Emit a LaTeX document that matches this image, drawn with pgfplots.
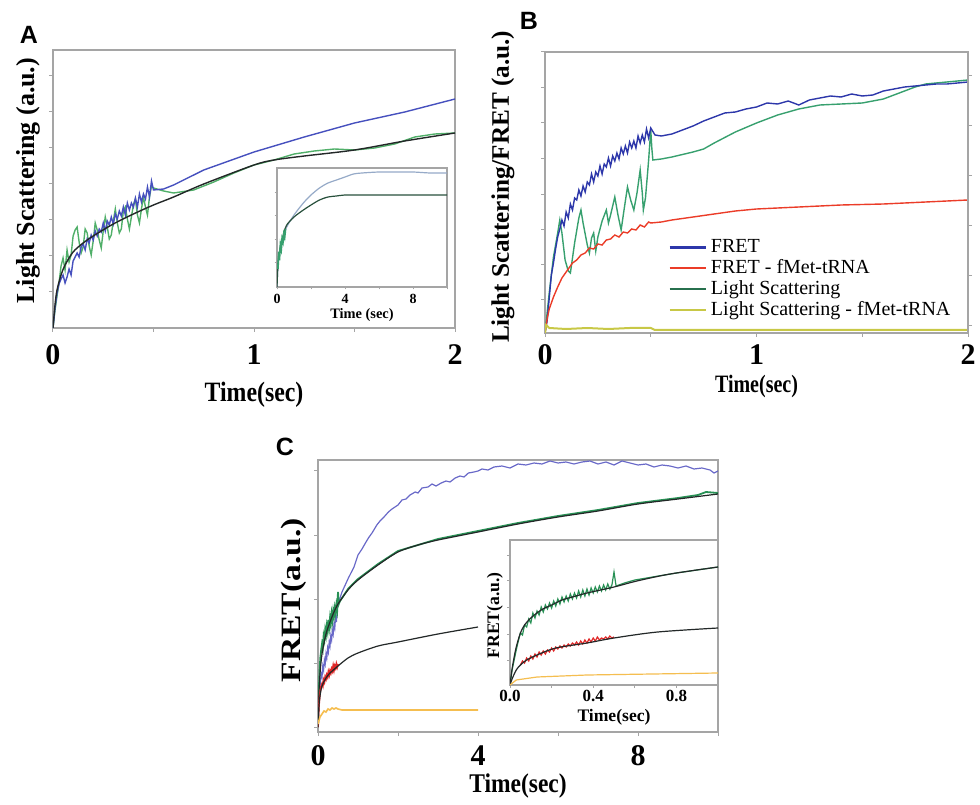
\documentclass[border=0pt]{standalone}
\usepackage{graphicx}
\usepackage{fontspec}
\setmainfont{Liberation Serif}
\newfontfamily\arial{Liberation Sans}
\usepackage{pgfplots}
\pgfplotsset{compat=1.18}
\definecolor{framegray}{RGB}{165,165,165}
\definecolor{Ablue}{RGB}{70,80,190}
\definecolor{Agreen}{RGB}{80,175,105}
\definecolor{fitblack}{RGB}{35,40,40}
\definecolor{Bblue}{RGB}{45,55,170}
\definecolor{Bgreen}{RGB}{55,160,110}
\definecolor{Bred}{RGB}{235,60,40}
\definecolor{Byellow}{RGB}{200,200,70}
\definecolor{Cblue}{RGB}{105,105,200}
\definecolor{Cgreen}{RGB}{40,145,85}
\definecolor{Cred}{RGB}{225,40,40}
\definecolor{Cyellow}{RGB}{245,190,80}
\definecolor{insetup}{RGB}{150,170,200}
\definecolor{insetlow}{RGB}{40,80,60}
\pgfplotsset{
  base/.style={scale only axis, enlargelimits=false, clip=true,
    axis line style={draw=framegray, line width=0.6pt},
    tick style={draw=framegray, line width=0.5pt},
    tick align=outside, major tick length=2pt,
    xtick pos=left, ytick pos=left, yticklabels={},
    /pgf/number format/assume math mode=true},
  big ticks/.style={xticklabel style={font=\bfseries\fontsize{15}{15}\selectfont, yshift=#1}},
}
\begin{document}
\begin{tikzpicture}
\useasboundingbox (0,0) rectangle (490pt,402pt);
% ---------------- Panel A ----------------
\begin{axis}[base, at={(26.5pt,238pt)}, anchor=south west, width=201pt, height=139pt,
  xmin=0, xmax=2, ymin=0, ymax=278,
  xtick={0,0.5,1,1.5,2}, xticklabels={0,,1,,2}, big ticks=-2.5pt,
  ytick={36,72,108,144,180,216,252},
  xlabel={\scalebox{0.85}[1]{\bfseries\fontsize{14}{14}\selectfont Time(sec)}},
  x label style={at={(axis description cs:0.5,0)}, anchor=center, yshift=-33.5pt},
  ylabel={\bfseries\fontsize{13}{13}\selectfont Light Scattering (a.u.)},
  y label style={at={([xshift=-12.5pt]axis description cs:0,0.53)}, anchor=center},
  line width=0.7pt]
\addplot[Agreen] coordinates {(0,0) (0.01,18) (0.02,32) (0.03,45) (0.04,62) (0.05,70) (0.06,58) (0.07,78) (0.08,66) (0.09,73) (0.10,92) (0.11,98) (0.12,101) (0.13,86) (0.14,75) (0.15,81) (0.16,99) (0.17,95) (0.18,82) (0.19,73) (0.20,87) (0.21,105) (0.22,98) (0.23,88) (0.24,80) (0.25,97) (0.26,111) (0.27,101) (0.28,89) (0.29,93) (0.30,107) (0.31,119) (0.32,105) (0.33,95) (0.34,99) (0.35,117) (0.36,121) (0.37,109) (0.38,99) (0.39,111) (0.40,123) (0.41,129) (0.42,113) (0.43,105) (0.44,119) (0.45,131) (0.46,121) (0.47,113) (0.48,131) (0.49,142) (0.50,140) (0.55,137) (0.6,135) (0.7,138) (0.8,146) (0.9,155) (1.0,163) (1.1,168) (1.2,174) (1.3,177) (1.4,179) (1.5,178) (1.6,180) (1.7,184) (1.8,191) (1.9,194) (2.0,195)};
\addplot[Ablue] coordinates {(0,0) (0.01,20) (0.02,35) (0.03,44) (0.04,49) (0.05,53) (0.06,45) (0.07,51) (0.08,59) (0.09,53) (0.10,67) (0.11,71) (0.12,75) (0.13,71) (0.14,81) (0.15,84) (0.16,78) (0.17,89) (0.18,85) (0.19,93) (0.20,88) (0.21,97) (0.22,92) (0.23,99) (0.24,96) (0.25,105) (0.26,97) (0.27,107) (0.28,103) (0.29,111) (0.30,104) (0.31,114) (0.32,109) (0.33,117) (0.34,112) (0.35,121) (0.36,113) (0.37,125) (0.38,118) (0.39,125) (0.40,121) (0.41,130) (0.42,121) (0.43,134) (0.44,126) (0.45,134) (0.46,129) (0.47,141) (0.48,131) (0.49,147) (0.50,138) (0.55,139) (0.6,143) (0.75,158) (1.0,176) (1.25,191) (1.5,205) (1.75,216) (2.0,229)};
\addplot[fitblack, smooth] coordinates {(0,0) (0.01,23) (0.02,38) (0.04,53) (0.06,63) (0.1,76) (0.15,85) (0.2,92) (0.3,104) (0.4,114) (0.5,123) (0.6,131) (0.75,144) (1.0,163) (1.1,168) (1.25,172) (1.5,178) (1.75,187) (2.0,195)};
\end{axis}
% inset A
\begin{axis}[base, at={(138.5pt,258.5pt)}, anchor=south west, width=85pt, height=59.5pt,
  axis background/.style={fill=white},
  xmin=0, xmax=10, ymin=0, ymax=119,
  xtick={0,2,4,6,8,10}, xticklabels={0,,4,,8,},
  xticklabel style={font=\bfseries\fontsize{7}{7}\selectfont, inner sep=1pt, yshift=-1pt},
  major tick length=1.2pt,
  ytick={24,47,71,94},
  xlabel={\bfseries\fontsize{7.2}{7.2}\selectfont Time (sec)},
  x label style={at={(axis description cs:0.5,0)}, anchor=center, yshift=-14pt},
  line width=0.6pt]
\addplot[insetup, smooth] coordinates {(0,0) (0.05,20) (0.1,30) (0.2,40) (0.4,52) (0.57,60) (1,72) (1.55,84) (2,92) (2.5,99) (3,104) (3.5,107) (4,110) (4.5,113) (5,114) (6,115) (7,115) (8,115) (9,114) (10,114)};
\addplot[insetlow, smooth] coordinates {(0,0) (0.05,20) (0.1,30) (0.2,40) (0.4,54) (0.57,62) (1,70) (1.55,77) (2,82) (2.5,87) (3,90) (3.5,91) (4,92) (5,92) (6,92) (7,92) (8,92) (10,92)};
\addplot[Bgreen, line width=0.9pt] coordinates {(0.05,18) (0.1,32) (0.15,30) (0.2,42) (0.25,38) (0.3,48) (0.35,45) (0.4,53) (0.45,50) (0.5,58)};
\end{axis}
% ---------------- Panel B ----------------
\begin{axis}[base, at={(272.5pt,235.5pt)}, anchor=south west, width=211.5pt, height=140.5pt,
  xmin=0, xmax=2, ymin=0, ymax=281,
  xtick={0,0.5,1,1.5,2}, xticklabels={0,,1,,2}, big ticks=0pt,
  ytick={33,68,103,138,174,210,245,281},
  xlabel={\scalebox{0.8}[1]{\bfseries\fontsize{12.5}{12.5}\selectfont Time(sec)}},
  x label style={at={(axis description cs:0.5,0)}, anchor=center, yshift=-26.5pt},
  ylabel={\bfseries\fontsize{12.6}{12.6}\selectfont Light Scattering/FRET (a.u.)},
  y label style={at={([xshift=-21pt]axis description cs:0,0.52)}, anchor=center},
  legend style={at={(0.29,0.35)}, anchor=north west, draw=none, fill=none,
    font=\fontsize{10}{10}\selectfont, row sep=-2pt, inner sep=0pt},
  legend cell align=left,
  legend image code/.code={\draw[#1, line width=1.3pt] (0pt,0pt) -- (18pt,0pt);},
  line width=0.7pt]
\addplot[Bgreen, forget plot] coordinates {(0,0) (0.02,40) (0.04,76) (0.06,100) (0.07,113) (0.08,100) (0.095,73) (0.11,62) (0.12,60) (0.14,90) (0.16,115) (0.17,123) (0.18,110) (0.20,88) (0.21,80) (0.22,95) (0.23,100) (0.24,82) (0.25,96) (0.27,112) (0.29,123) (0.30,110) (0.31,118) (0.33,136) (0.345,118) (0.36,103) (0.375,125) (0.39,146) (0.405,133) (0.42,123) (0.435,140) (0.45,163) (0.46,140) (0.465,123) (0.475,135) (0.485,160) (0.49,173) (0.50,203) (0.505,185) (0.51,173) (0.55,174) (0.6,176) (0.7,181) (0.75,184) (0.8,190) (0.9,201) (1.0,210) (1.1,218) (1.2,224) (1.25,226) (1.3,228) (1.4,229) (1.5,230) (1.6,234) (1.7,242) (1.75,246) (1.8,249) (1.9,251) (2.0,253)};
\addplot[Bblue] coordinates {(0.00,0) (0.01,12) (0.02,35) (0.03,58) (0.04,70) (0.05,84) (0.06,96) (0.07,104) (0.08,113) (0.09,107) (0.10,121) (0.11,115) (0.12,129) (0.13,123) (0.14,135) (0.15,133) (0.16,143) (0.17,137) (0.18,147) (0.19,141) (0.20,151) (0.21,148) (0.22,159) (0.23,151) (0.24,161) (0.25,157) (0.26,167) (0.27,159) (0.28,169) (0.29,166) (0.30,175) (0.31,167) (0.32,177) (0.33,172) (0.34,180) (0.35,174) (0.36,185) (0.37,179) (0.38,187) (0.39,180) (0.40,191) (0.41,185) (0.42,192) (0.43,185) (0.44,197) (0.45,190) (0.46,198) (0.47,191) (0.48,204) (0.49,195) (0.50,205) (0.52,198) (0.55,197) (0.6,199) (0.65,203) (0.7,207) (0.75,212) (0.8,216) (0.85,220) (0.9,221) (0.95,224) (1.0,226) (1.05,230) (1.1,229) (1.15,232) (1.2,228) (1.25,233) (1.3,235) (1.35,237) (1.4,236) (1.45,239) (1.5,237) (1.55,238) (1.6,242) (1.65,244) (1.7,246) (1.75,247) (1.8,248) (1.85,249) (1.9,249) (1.95,250) (2.0,251)};
\addlegendentry{FRET}
\addplot[Bred] coordinates {(0,0) (0.01,14) (0.02,24) (0.03,30) (0.04,36) (0.05,41) (0.06,46) (0.08,55) (0.1,61) (0.13,70) (0.15,73) (0.17,78) (0.19,80) (0.21,85) (0.23,84) (0.25,89) (0.27,88) (0.29,93) (0.31,94) (0.33,98) (0.35,96) (0.37,101) (0.39,100) (0.41,104) (0.43,103) (0.45,108) (0.47,106) (0.49,111) (0.5,110) (0.55,111) (0.6,113) (0.7,116) (0.8,119) (0.9,122) (1.0,124) (1.2,126) (1.4,128) (1.6,129) (1.8,131) (2.0,133)};
\addlegendentry{FRET - fMet-tRNA}
\addlegendimage{Bgreen!70!black}
\addlegendentry{Light Scattering}
\addplot[Byellow, line width=1pt] coordinates {(0,0) (0.005,8) (0.02,5) (0.1,4) (0.2,5) (0.3,4) (0.4,5) (0.5,5) (0.52,3) (1,3) (2,3)};
\addlegendentry{Light Scattering - fMet-tRNA}
\end{axis}
\begin{axis}[base, at={(272.5pt,235.5pt)}, anchor=south west, width=211.5pt, height=140.5pt,
  xmin=0, xmax=2, ymin=0, ymax=281, axis x line=none, axis y line*=right,
  ytick pos=right, ytick={7,57,107,157,207,257}, yticklabels={}]
\addplot[draw=none] coordinates {(0,0) (2,1)};
\end{axis}
% ---------------- Panel C ----------------
\begin{axis}[base, at={(159pt,36pt)}, anchor=south west, width=200pt, height=136pt,
  xmin=0, xmax=10, ymin=0, ymax=272,
  xtick={0,2,4,6,8,10}, xticklabels={0,,4,,8,}, big ticks=-1pt,
  ytick={5,69,133,197,262},
  xlabel={\scalebox{0.87}[1]{\bfseries\fontsize{13.5}{13.5}\selectfont Time(sec)}},
  x label style={at={(axis description cs:0.5,0)}, anchor=center, yshift=-27pt},
  ylabel={\scalebox{1.2}[1]{\bfseries\fontsize{14}{14}\selectfont FRET(a.u.)}},
  y label style={at={([xshift=-12pt]axis description cs:0,0.485)}, anchor=center},
  line width=0.6pt]
\addplot[Cblue] coordinates {(0,5) (0.02,25) (0.04,40) (0.06,50) (0.08,58) (0.1,55) (0.12,66) (0.14,62) (0.16,72) (0.18,68) (0.2,78) (0.22,74) (0.24,84) (0.26,80) (0.28,90) (0.3,86) (0.32,96) (0.34,92) (0.36,102) (0.38,98) (0.4,108) (0.42,104) (0.44,116) (0.46,110) (0.48,122) (0.5,128) (0.6,140) (0.76,154) (0.9,165) (1.0,177) (1.1,183) (1.2,190) (1.26,194) (1.35,199) (1.47,207) (1.55,211) (1.65,215) (1.76,220) (1.85,223) (2.0,227) (2.1,232) (2.2,233) (2.3,237) (2.43,240) (2.5,239) (2.6,244) (2.75,245) (2.85,248) (2.95,246) (3.08,249) (3.2,251) (3.3,250) (3.43,254) (3.55,256) (3.65,255) (3.76,259) (3.9,260) (4.0,261) (4.1,263) (4.25,262) (4.4,265) (4.6,266) (4.8,264) (5.0,268) (5.2,267) (5.4,269) (5.6,268) (5.8,271) (6.0,269) (6.2,270) (6.4,268) (6.6,270) (6.8,271) (7.0,268) (7.2,270) (7.4,267) (7.6,271) (7.8,269) (8.0,267) (8.2,268) (8.4,265) (8.6,267) (8.8,266) (9.0,264) (9.2,266) (9.4,263) (9.6,264) (9.8,262) (9.9,259) (10,261)};
\addplot[Cgreen, line width=0.9pt] coordinates {(0,5) (0.02,40) (0.04,62) (0.06,75) (0.08,82) (0.1,88) (0.12,84) (0.14,96) (0.16,92) (0.18,102) (0.2,97) (0.22,106) (0.24,101) (0.26,112) (0.28,105) (0.3,114) (0.32,108) (0.34,118) (0.36,112) (0.38,121) (0.4,116) (0.42,124) (0.44,119) (0.46,127) (0.48,122) (0.5,140) (0.52,128) (0.55,131) (0.75,143) (1,153) (1.5,168) (2,181) (3,193) (4,201) (5,209) (6,216) (7,222) (8,229) (9,234) (9.5,237) (9.7,240) (10,239)};
\addplot[fitblack, smooth] coordinates {(0,5) (0.02,35) (0.05,58) (0.1,78) (0.2,98) (0.3,110) (0.4,120) (0.5,128) (0.75,142) (1,152) (1.5,167) (2,180) (2.5,187) (3,192) (4,200) (5,208) (6,215) (7,221) (8,228) (9,233) (10,238)};
\addplot[Cred, line width=0.9pt] coordinates {(0,5) (0.02,25) (0.04,35) (0.06,42) (0.08,46) (0.1,48) (0.12,46) (0.14,52) (0.16,50) (0.18,55) (0.2,53) (0.22,57) (0.24,55) (0.26,60) (0.28,57) (0.3,61) (0.32,59) (0.34,63) (0.36,61) (0.38,66) (0.4,62) (0.42,66) (0.44,64) (0.46,68) (0.48,65) (0.5,68)};
\addplot[fitblack, smooth] coordinates {(0,5) (0.02,24) (0.05,36) (0.1,46) (0.2,54) (0.3,59) (0.5,66) (0.75,74) (1,79) (1.5,86) (2,90) (3,98) (4,105)};
\addplot[Cyellow, line width=0.8pt] coordinates {(0,8) (0.05,15) (0.1,18) (0.15,21) (0.2,20) (0.25,23) (0.3,22) (0.35,24) (0.4,23) (0.45,24) (0.5,23) (0.6,22) (1,22) (2,22) (3,22) (4,22)};
\end{axis}
% inset C
\begin{axis}[base, at={(255pt,59.5pt)}, anchor=south west, width=104pt, height=72.5pt,
  axis background/.style={fill=white},
  xmin=0, xmax=1, ymin=0, ymax=145,
  xtick={0,0.2,0.4,0.6,0.8,1}, xticklabels={0.0,,0.4,,0.8,},
  xticklabel style={font=\bfseries\fontsize{8.5}{8.5}\selectfont, inner sep=1pt},
  major tick length=1.5pt,
  ytick={25,51,78,105,130},
  xlabel={\bfseries\fontsize{8.8}{8.8}\selectfont Time(sec)},
  x label style={at={(axis description cs:0.5,0)}, anchor=center, yshift=-16pt},
  ylabel={\bfseries\fontsize{8.8}{8.8}\selectfont FRET(a.u.)},
  y label style={at={([xshift=-7.5pt]axis description cs:0,0.48)}, anchor=center},
  line width=0.6pt]
\addplot[Cgreen] coordinates {(0,0) (0.01,15) (0.02,25) (0.03,35) (0.04,44) (0.05,52) (0.06,50) (0.07,60) (0.08,58) (0.09,66) (0.1,62) (0.11,72) (0.12,67) (0.13,74) (0.14,70) (0.15,78) (0.16,73) (0.17,80) (0.18,76) (0.19,82) (0.2,77) (0.21,84) (0.22,79) (0.23,86) (0.24,81) (0.25,88) (0.26,83) (0.27,89) (0.28,84) (0.29,91) (0.3,86) (0.31,92) (0.32,87) (0.33,94) (0.34,88) (0.35,95) (0.36,89) (0.37,96) (0.38,90) (0.39,97) (0.4,92) (0.41,98) (0.42,93) (0.43,99) (0.44,94) (0.45,100) (0.46,95) (0.47,101) (0.48,96) (0.49,100) (0.5,113) (0.51,99) (0.55,102) (0.6,105) (0.8,112) (1.0,118)};
\addplot[fitblack, smooth] coordinates {(0,0) (0.01,16) (0.02,28) (0.03,38) (0.05,52) (0.07,60) (0.1,67) (0.15,75) (0.2,80) (0.25,85) (0.3,88) (0.37,92) (0.5,98) (0.61,104) (0.77,111) (1.0,118)};
\addplot[Cred] coordinates {(0.05,20) (0.06,24) (0.07,22) (0.08,27) (0.09,24) (0.1,29) (0.11,26) (0.12,31) (0.13,28) (0.14,33) (0.15,30) (0.16,34) (0.17,31) (0.18,35) (0.19,33) (0.2,37) (0.21,34) (0.22,38) (0.23,36) (0.24,39) (0.25,37) (0.26,40) (0.27,38) (0.28,41) (0.29,39) (0.3,42) (0.31,40) (0.32,43) (0.33,40) (0.34,44) (0.35,41) (0.36,45) (0.37,42) (0.38,46) (0.39,43) (0.4,47) (0.41,44) (0.42,48) (0.43,45) (0.44,47) (0.45,46) (0.46,48) (0.47,46) (0.48,49) (0.49,47) (0.5,48)};
\addplot[fitblack, smooth] coordinates {(0,0) (0.01,6) (0.03,15) (0.05,20) (0.08,25) (0.13,30) (0.22,37) (0.37,42) (0.5,47) (0.71,53) (1.0,57)};
\addplot[Cyellow] coordinates {(0,0) (0.03,5) (0.13,8) (0.37,10) (1.0,12)};
\end{axis}
% panel letters
\node[font=\arial\bfseries\fontsize{12.5}{12.5}\selectfont] at (14.5pt,384.5pt) {A};
\node[font=\arial\bfseries\fontsize{12.5}{12.5}\selectfont] at (264.5pt,391.5pt) {B};
\node[font=\arial\bfseries\fontsize{12.5}{12.5}\selectfont] at (142.5pt,178.5pt) {C};
\end{tikzpicture}
\end{document}
